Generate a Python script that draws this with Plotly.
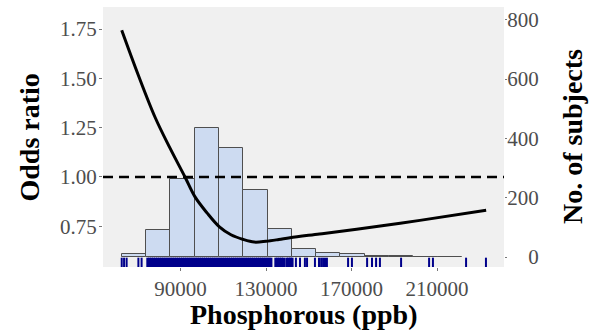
import plotly.graph_objects as go

# Histogram of subjects by phosphorous level
bin_start = 62500
bin_width = 11367
bin_counts = [11, 90, 262, 435, 369, 225, 93, 28, 15, 9, 5, 2, 1, 1]

# Fitted odds ratio curve
curve_p = [62500, 70100, 78100, 85100, 92100, 96800, 102400, 108200,
           113600, 119400, 124500, 130000, 136000, 141200, 155000, 172400,
           202000, 233000]
curve_or = [1.744, 1.521, 1.303, 1.146, 1.000, 0.899, 0.818, 0.747,
            0.707, 0.683, 0.670, 0.674, 0.683, 0.692, 0.711, 0.735,
            0.780, 0.831]

# Individual subject values (rug)
rug_sparse_low = [62500, 63600, 64800, 70300, 71800]
rug_dense = [74700, 75600, 76500, 77400, 78300, 79200, 80100, 81000, 81900,
             82800, 83700, 84600, 85500, 86400, 87300, 88200, 89100, 90000,
             90900, 91800, 92700, 93600, 94500, 95400, 96300, 97200, 98100,
             99000, 99900, 100800, 101700, 102600, 103500, 104400, 105300,
             106200, 107100, 108000, 108900, 109800, 110700, 111600, 112500,
             113400, 114300, 115200, 116100, 117000, 117900, 118800, 119700,
             120600, 121500, 122400, 123300, 124200, 125100, 126000, 126900,
             127800, 128700, 129600, 130500, 131400, 132300, 134600, 135500,
             136400, 137300, 138200, 139700, 140600, 141500, 142200]
rug_sparse_high = [144000, 145900, 148200, 149200, 152900, 154800, 155800,
                   156700, 157600, 158500, 168400, 170200, 177300, 179600,
                   181500, 183300, 193200, 206300, 208100, 223600, 232900]

x_ticks = [90000, 130000, 170000, 210000]
or_ticks = [0.75, 1.00, 1.25, 1.50, 1.75]
count_ticks = [0, 200, 400, 600, 800]

serif = "Liberation Serif"
tick_color = "#4d4d4d"
rug_color = "#00008b"
RUG_Y = 0.5624

bin_centers = [bin_start + bin_width * (i + 0.5) for i in range(len(bin_counts))]

fig = go.Figure()

fig.add_trace(go.Bar(
    x=bin_centers, y=bin_counts, width=[bin_width] * len(bin_counts),
    marker=dict(color="#cddbf1", line=dict(color="#4f4f4f", width=1)),
    yaxis="y", showlegend=False, hoverinfo="skip",
))

fig.add_trace(go.Scatter(
    x=curve_p, y=curve_or, mode="lines", yaxis="y2",
    line=dict(color="black", width=3, shape="spline", smoothing=1),
    showlegend=False,
))

# Rug: dense core drawn with wider strokes so it reads as a solid band
fig.add_trace(go.Scatter(
    x=rug_dense, y=[RUG_Y] * len(rug_dense), mode="markers", yaxis="y2",
    marker=dict(symbol="line-ns", size=8, line=dict(color=rug_color, width=3)),
    showlegend=False, hoverinfo="skip",
))
rug_sparse = rug_sparse_low + rug_sparse_high
fig.add_trace(go.Scatter(
    x=rug_sparse, y=[RUG_Y] * len(rug_sparse), mode="markers", yaxis="y2",
    marker=dict(symbol="line-ns", size=8, line=dict(color=rug_color, width=2)),
    showlegend=False, hoverinfo="skip",
))

fig.add_shape(type="line", xref="paper", x0=0, x1=1, yref="y2", y0=1, y1=1,
              line=dict(color="black", width=2.5, dash="10px,6px"))

tickfont = dict(family=serif, size=21, color=tick_color)

fig.update_layout(
    width=606, height=334,
    margin=dict(l=103, r=102, t=7, b=67),
    paper_bgcolor="white", plot_bgcolor="#f0f0f0",
    bargap=0,
    xaxis=dict(range=[53743, 241345], tickvals=x_ticks,
               ticktext=[str(v) for v in x_ticks],
               ticks="outside", ticklen=3, tickcolor="#777", tickwidth=1,
               showgrid=False, zeroline=False, showline=False,
               tickfont=tickfont),
    yaxis=dict(range=[-33.7, 843], side="right", tickvals=count_ticks,
               ticktext=["\u2007\u2007" + "0" if v == 0 else str(v) for v in count_ticks],
               ticks="outside", ticklen=2, tickcolor="#777", tickwidth=1,
               ticklabelstandoff=-4,
               showgrid=False, zeroline=False, showline=False,
               tickfont=tickfont),
    yaxis2=dict(range=[0.5436, 1.862], overlaying="y", side="left",
                tickvals=or_ticks, ticktext=[f"{v:.2f}" for v in or_ticks],
                ticks="outside", ticklen=3, tickcolor="#777", tickwidth=1,
                ticklabelstandoff=-2,
                showgrid=False, zeroline=False, showline=False,
                tickfont=tickfont),
    annotations=[
        dict(text="<b>Phosphorous (ppb)</b>", xref="paper", yref="paper",
             x=0.5, y=-0.182, xanchor="center", yanchor="middle",
             showarrow=False, font=dict(family=serif, size=28, color="black")),
        dict(text="<b>Odds ratio</b>", xref="paper", yref="paper",
             x=-0.1833, y=0.5, xanchor="center", yanchor="middle",
             textangle=-90, showarrow=False,
             font=dict(family=serif, size=28, color="black")),
        dict(text="<b>No. of subjects</b>", xref="paper", yref="paper",
             x=1.1696, y=0.5, xanchor="center", yanchor="middle",
             textangle=-90, showarrow=False,
             font=dict(family=serif, size=28, color="black")),
    ],
)

fig.write_html("out.html")
